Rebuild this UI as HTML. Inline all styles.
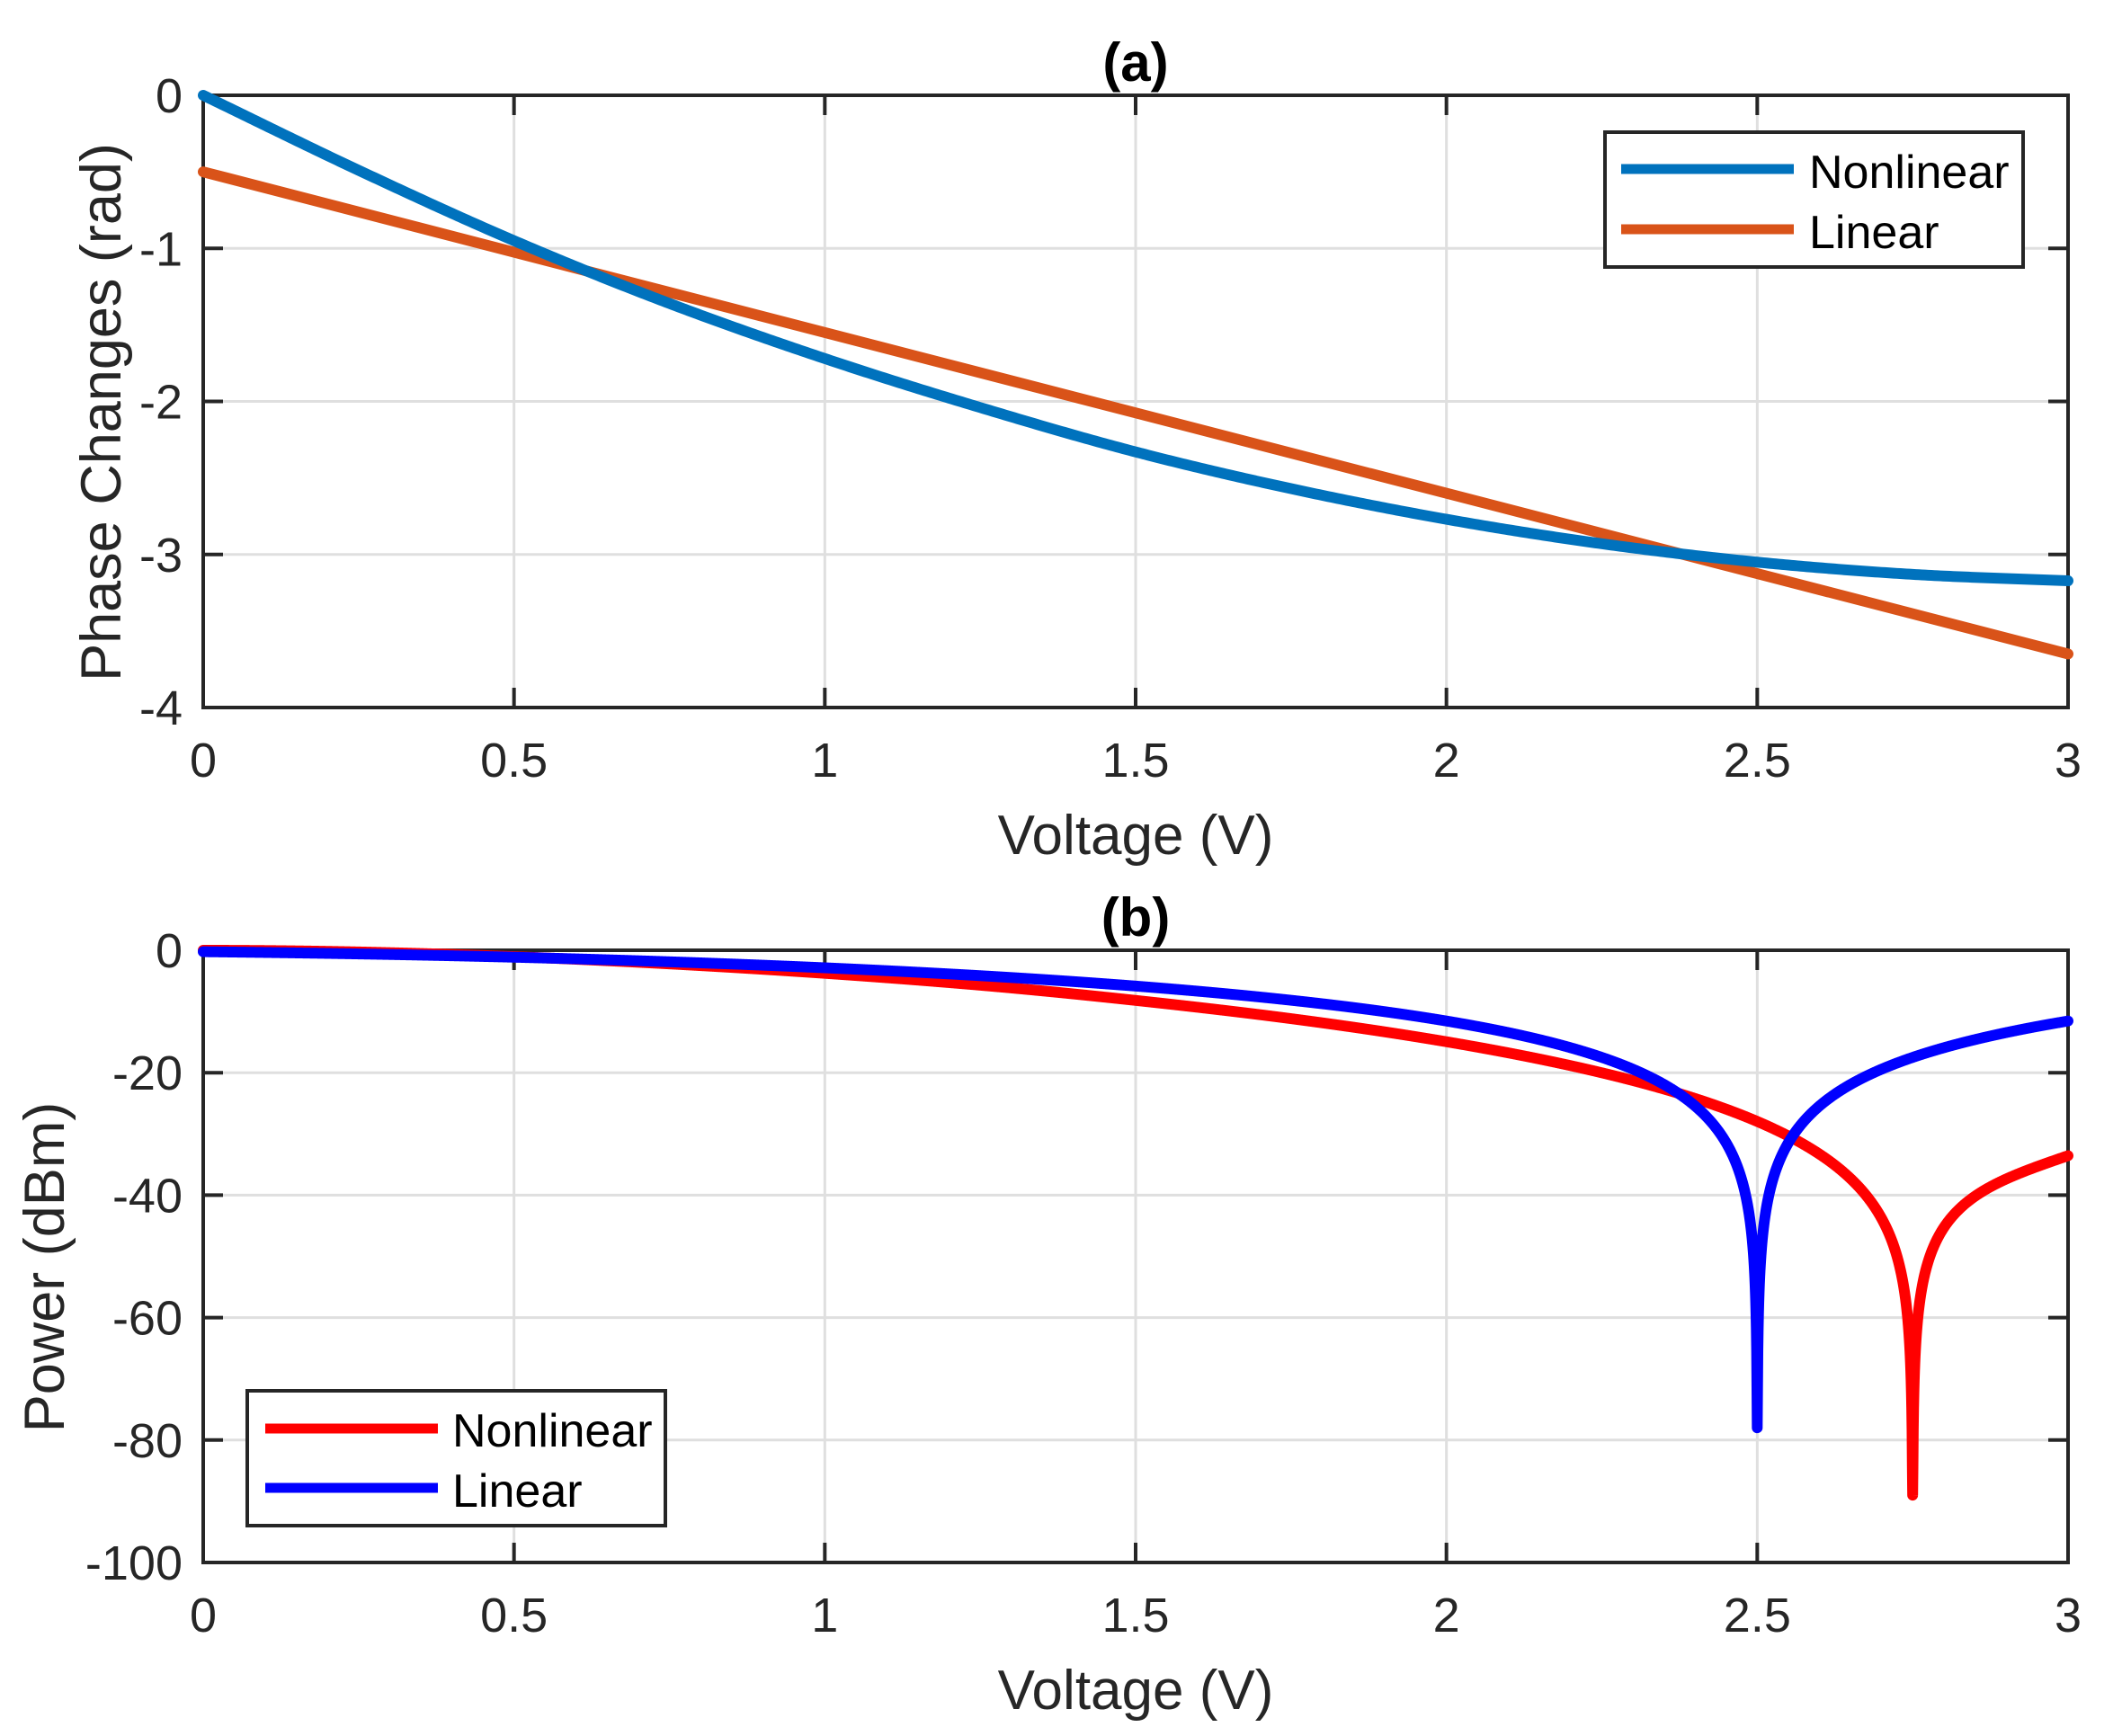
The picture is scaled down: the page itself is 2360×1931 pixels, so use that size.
<!DOCTYPE html>
<html><head><meta charset="utf-8"><style>
html,body{margin:0;padding:0;background:#fff;}
svg{display:block;}
text{font-family:"Liberation Sans",Arial,sans-serif;fill:#262626;}
</style></head><body>
<svg id="s" width="2360" height="1931" viewBox="0 0 2360 1931" xmlns="http://www.w3.org/2000/svg">
<rect width="2360" height="1931" fill="#fff"/>
<g id="g"></g>
<!-- legend a -->
<rect x="1785" y="147" width="465" height="150" fill="#fff" stroke="#262626" stroke-width="4"/>
<line x1="1803" y1="188" x2="1995" y2="188" stroke="#0072BD" stroke-width="11"/>
<line x1="1803" y1="255" x2="1995" y2="255" stroke="#D95319" stroke-width="11"/>
<text x="2012" y="209" font-size="52" style="fill:#000">Nonlinear</text>
<text x="2012" y="276" font-size="52" style="fill:#000">Linear</text>
<!-- legend b -->
<rect x="275" y="1547" width="465" height="150" fill="#fff" stroke="#262626" stroke-width="4"/>
<line x1="295" y1="1589" x2="487" y2="1589" stroke="#FF0000" stroke-width="11"/>
<line x1="295" y1="1655" x2="487" y2="1655" stroke="#0000FF" stroke-width="11"/>
<text x="503" y="1609" font-size="52" style="fill:#000">Nonlinear</text>
<text x="503" y="1676" font-size="52" style="fill:#000">Linear</text>
</svg>
<script>
var NS="http://www.w3.org/2000/svg";
var g=document.getElementById('g');
function el(t,a,txt){var e=document.createElementNS(NS,t);for(var k in a)e.setAttribute(k,a[k]);if(txt!==undefined)e.textContent=txt;g.appendChild(e);return e;}
var L=226,R=2300;
function X(v){return L+(R-L)*v/3;}
var pv=[0,-0.49,-0.95,-1.36,-1.72,-2.04,-2.33,-2.57,-2.77,-2.93,-3.05,-3.13,-3.172];
function phi(v){var t=v/0.25;var i=Math.min(Math.floor(t),11);var u=t-i;
 var p0=pv[Math.max(i-1,0)],p1=pv[i],p2=pv[i+1],p3=pv[Math.min(i+2,12)];
 if(i==0)p0=2*p1-p2; if(i+2>12)p3=2*p2-p1;
 return 0.5*((2*p1)+(-p0+p2)*u+(2*p0-5*p1+4*p2-p3)*u*u+(-p0+3*p1-3*p2+p3)*u*u*u);}
function axes(T,B,ymin,ymax,yticks,title,ylabel,ylx){
 var Y=function(y){return T+(B-T)*(ymax-y)/(ymax-ymin);};
 for(var i=1;i<6;i++){el('line',{x1:X(i*0.5),x2:X(i*0.5),y1:T,y2:B,stroke:'#dfdfdf','stroke-width':3});}
 yticks.forEach(function(y){if(y!=ymin&&y!=ymax)el('line',{x1:L,x2:R,y1:Y(y),y2:Y(y),stroke:'#dfdfdf','stroke-width':3});});
 el('rect',{x:L,y:T,width:R-L,height:B-T,fill:'none',stroke:'#262626','stroke-width':4});
 for(var i=0;i<=6;i++){var x=X(i*0.5);
  el('line',{x1:x,x2:x,y1:B,y2:B-22,stroke:'#262626','stroke-width':4});
  el('line',{x1:x,x2:x,y1:T,y2:T+22,stroke:'#262626','stroke-width':4});
  el('text',{x:x,y:B+77,'font-size':54,'text-anchor':'middle'},String(i*0.5));}
 yticks.forEach(function(y){var yy=Y(y);
  el('line',{x1:L,x2:L+22,y1:yy,y2:yy,stroke:'#262626','stroke-width':4});
  el('line',{x1:R,x2:R-22,y1:yy,y2:yy,stroke:'#262626','stroke-width':4});
  el('text',{x:203,y:yy+19,'font-size':54,'text-anchor':'end'},String(y));});
 el('text',{x:(L+R)/2,y:B+163,'font-size':62,'text-anchor':'middle'},'Voltage (V)');
 el('text',{x:(L+R)/2,y:T-16,'font-size':60,'font-weight':'bold','text-anchor':'middle',style:'fill:#000'},title);
 el('text',{x:0,y:0,'font-size':63,'text-anchor':'middle',transform:'translate('+ylx+','+((T+B)/2+12)+') rotate(-90)'},ylabel);
 return Y;}
function path(pts,col,Y){var d='';pts.forEach(function(p,i){d+=(i?'L':'M')+X(p[0]).toFixed(2)+','+Y(p[1]).toFixed(2);});
 el('path',{d:d,fill:'none',stroke:col,'stroke-width':12,'stroke-linejoin':'round','stroke-linecap':'round'});}
var Ya=axes(106,787,-4,0,[0,-1,-2,-3,-4],'(a)','Phase Changes (rad)',134);
var a1=[];for(var i=0;i<=600;i++){var v=i*3/600;a1.push([v,phi(v)]);}
path([[0,-0.5],[3,-0.5-1.05*3]],'#D95319',Ya);
path(a1,'#0072BD',Ya);
var Yb=axes(1057,1738,-100,0,[0,-20,-40,-60,-80,-100],'(b)','Power (dBm)',71);
var red=[],blue=[],p0=phi(2.75);
var vs=[];for(var i=0;i<=6000;i++)vs.push(i*3/6000);
vs.forEach(function(v){
 var s=Math.abs(Math.sin((phi(v)-p0)/2));var P=20*Math.log10(Math.max(s,1e-9));red.push([v,Math.max(P,-89)]);
 var sb=Math.abs(Math.sin(0.535*(2.5-v)));var Pb=20*Math.log10(Math.max(sb,1e-9));blue.push([v,Math.max(Pb,-78)]);});
path(red,'#FF0000',Yb);
path(blue,'#0000FF',Yb);
</script>
</body></html>
